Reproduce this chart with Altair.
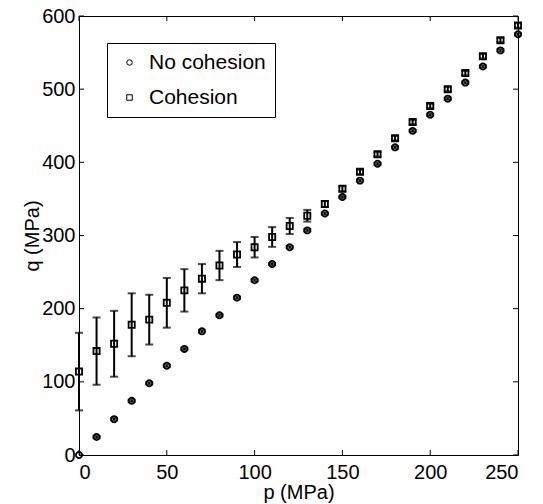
import altair as alt
import pandas as pd

# ---- data ----
p_vals = [0, 10, 20, 30, 40, 50, 60, 70, 80, 90, 100, 110, 120, 130, 140, 150,
          160, 170, 180, 190, 200, 210, 220, 230, 240, 250]
q_nocoh = [0, 24.6, 49, 74, 98, 122, 145, 169, 191, 215, 238.8, 261, 284, 307,
           330, 352.6, 375, 398, 420.5, 443, 465, 487, 509, 531, 553, 575]
err_nocoh = [0, 1.5, 1.5, 1.5, 1.5, 1.5, 1.5, 1.5, 1.5, 1.5, 1.5, 1.5, 1.5, 1.5,
             1.5, 1.5, 1.5, 1.5, 1.5, 1.5, 1.5, 1.5, 1.5, 1.5, 1.5, 1.5]
q_coh = [114, 142, 152, 178, 185, 208, 225, 241, 259, 274, 284, 298, 313, 327,
         343, 364, 387, 411, 433, 455, 477, 500, 522, 545, 567, 587]
err_coh = [53, 46, 45, 43, 34, 34, 29, 20, 20, 17, 14, 13.5, 11, 8, 4, 3.5, 3,
           3, 3, 3, 3, 3, 3, 3, 3, 3]
series_names = ["No cohesion", "Cohesion"]
x_ticks = [0, 50, 100, 150, 200, 250]
y_ticks = [0, 100, 200, 300, 400, 500, 600]

rows = []
for name, qs, es in [(series_names[0], q_nocoh, err_nocoh), (series_names[1], q_coh, err_coh)]:
    for p, q, e in zip(p_vals, qs, es):
        rows.append({"series": name, "p": p, "q": q, "lo": q - e, "hi": q + e})
df = pd.DataFrame(rows)
df_err = df[df["hi"] > df["lo"]]

W, H = 439, 439
FONT = "Liberation Sans"
xs = alt.Scale(domain=[0, 250], nice=False, zero=False)
ys = alt.Scale(domain=[0, 600], nice=False, zero=False)

base = alt.Chart(df_err)
bars = base.mark_rule(color="black", strokeWidth=2).encode(
    x=alt.X("p:Q", scale=xs), y=alt.Y("lo:Q", scale=ys), y2="hi:Q")
cap_lo = base.mark_tick(color="black", orient="horizontal", size=8, thickness=2).encode(
    x=alt.X("p:Q", scale=xs), y=alt.Y("lo:Q", scale=ys))
cap_hi = base.mark_tick(color="black", orient="horizontal", size=8, thickness=2).encode(
    x=alt.X("p:Q", scale=xs), y=alt.Y("hi:Q", scale=ys))

points = alt.Chart(df).mark_point(filled=False, color="black", strokeWidth=1.8, size=38, opacity=1).encode(
    x=alt.X("p:Q", scale=xs,
            axis=alt.Axis(title="p (MPa)", values=x_ticks, ticks=False, labelPadding=7,
                          titlePadding=0)),
    y=alt.Y("q:Q", scale=ys,
            axis=alt.Axis(title="q (MPa)", values=y_ticks, ticks=False, labelPadding=4,
                          titlePadding=-1)),
    shape=alt.Shape("series:N",
                    scale=alt.Scale(domain=series_names, range=["circle", "square"]),
                    legend=alt.Legend(title=None, orient="none", legendX=28, legendY=27,
                                      padding=9, symbolOffset=3, labelOffset=9,
                                      rowPadding=13, symbolSize=30, symbolStrokeWidth=1,
                                      symbolStrokeColor="black", symbolFillColor="white",
                                      labelFontSize=21, labelFont=FONT, labelLimit=300,
                                      strokeColor="black", fillColor="white")),
)

xt = pd.DataFrame({"v": x_ticks})
yt = pd.DataFrame({"v": y_ticks})
tb = alt.Chart(xt).mark_rule(color="black", strokeWidth=1).encode(
    x=alt.X("v:Q", scale=xs), y=alt.value(H), y2=alt.value(H - 5))
tt = alt.Chart(xt).mark_rule(color="black", strokeWidth=1).encode(
    x=alt.X("v:Q", scale=xs), y=alt.value(0), y2=alt.value(5))
tl = alt.Chart(yt).mark_rule(color="black", strokeWidth=1).encode(
    y=alt.Y("v:Q", scale=ys), x=alt.value(0), x2=alt.value(5))
tr = alt.Chart(yt).mark_rule(color="black", strokeWidth=1).encode(
    y=alt.Y("v:Q", scale=ys), x=alt.value(W), x2=alt.value(W - 5))

chart = alt.layer(tb, tt, tl, tr, bars, cap_lo, cap_hi, points).properties(
    width=W, height=H,
    autosize=alt.AutoSizeParams(type="none"),
    padding={"left": 79, "top": 16, "right": 25, "bottom": 49},
    background="white",
).configure_view(stroke="black", strokeWidth=1).configure_axis(
    grid=False, domainColor="black", domainWidth=1, labelFont=FONT, labelFontSize=20,
    labelColor="black", titleFont=FONT, titleFontSize=20, titleFontWeight="normal",
    titleColor="black",
)

chart.save("out.html", embed_options={"renderer": "svg", "actions": False})
